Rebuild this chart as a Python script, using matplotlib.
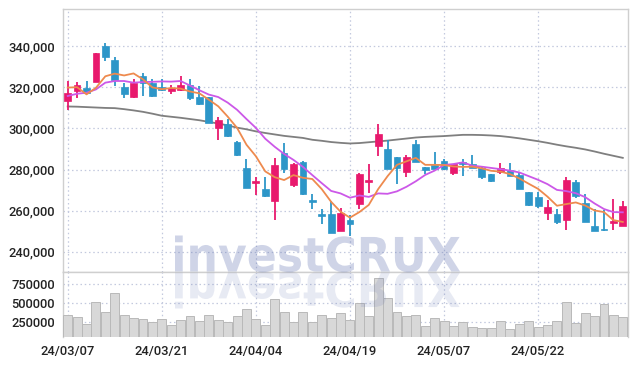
import matplotlib
matplotlib.use("Agg")
import matplotlib.pyplot as plt
from matplotlib.font_manager import FontProperties
from matplotlib.patches import PathPatch
from matplotlib.textpath import TextPath
from matplotlib.transforms import Affine2D
from matplotlib.ticker import FuncFormatter

# daily candles, prices in thousand won
opens = [313.2, 318.4, 319.7, 322.6, 340.1, 333.2, 320.3, 315.5, 325.7, 322.3,
         320.3, 318.4, 318.7, 321.0, 315.1, 315.3, 300.3, 302.4, 293.2, 281.0,
         273.3, 270.7, 264.5, 288.0, 272.3, 283.6, 265.4, 258.4, 258.4, 250.1,
         255.6, 263.3, 274.0, 291.4, 290.1, 286.2, 278.9, 292.2, 281.1, 282.4,
         284.4, 278.4, 283.8, 282.8, 280.8, 277.6, 278.9, 280.0, 277.2, 268.9,
         266.5, 258.9, 258.5, 255.6, 273.8, 263.8, 252.7, 251.2, 254.0, 252.3]
highs = [322.9, 322.8, 322.9, 336.6, 341.6, 335.0, 322.3, 323.9, 326.8, 323.9,
         324.2, 321.0, 325.5, 324.2, 320.6, 315.5, 305.5, 304.7, 293.8, 285.2,
         276.4, 276.4, 285.5, 292.7, 283.4, 284.0, 268.0, 261.0, 264.5, 261.3,
         257.7, 278.4, 282.8, 302.3, 294.6, 286.2, 287.0, 294.6, 281.1, 288.4,
         285.0, 282.8, 284.9, 287.3, 281.6, 278.0, 283.3, 283.3, 278.4, 269.0,
         269.0, 265.4, 260.8, 276.4, 275.1, 268.1, 261.0, 260.5, 265.7, 264.5]
lows = [308.8, 315.0, 316.6, 322.6, 332.7, 320.6, 314.8, 315.0, 315.8, 315.5,
        318.0, 317.0, 318.2, 313.8, 311.2, 302.5, 294.6, 295.8, 286.8, 270.9,
        267.5, 266.5, 255.6, 278.4, 271.7, 267.5, 261.0, 253.7, 249.1, 250.1,
        247.5, 260.8, 268.6, 286.8, 280.5, 273.2, 276.4, 283.8, 277.6, 280.5,
        280.0, 277.2, 277.1, 280.8, 275.6, 274.0, 277.6, 276.7, 270.5, 262.4,
        261.5, 255.6, 253.7, 250.7, 266.0, 254.5, 249.9, 249.9, 250.7, 252.3]
closes = [317.1, 321.0, 317.4, 336.6, 335.0, 323.4, 316.7, 322.3, 322.0, 315.8,
          318.5, 319.9, 321.0, 314.6, 311.7, 302.8, 303.9, 296.1, 287.0, 270.9,
          274.6, 267.0, 282.0, 280.1, 282.9, 268.0, 264.2, 257.2, 249.1, 258.9,
          253.5, 277.6, 275.1, 297.4, 280.5, 280.8, 286.2, 283.8, 280.0, 280.5,
          280.3, 282.8, 282.8, 280.8, 276.2, 274.3, 280.8, 276.7, 270.7, 262.9,
          262.1, 261.8, 254.3, 274.8, 267.0, 254.5, 249.9, 250.4, 255.1, 262.4]
# volume in thousand shares
volumes = [342, 316, 224, 521, 382, 640, 342, 303, 289, 250,
           289, 210, 276, 329, 263, 342, 276, 258, 333, 421,
           289, 214, 553, 382, 258, 382, 250, 342, 307, 368,
           280, 500, 333, 829, 566, 382, 333, 342, 201, 303,
           267, 201, 250, 188, 171, 171, 267, 158, 228, 263,
           184, 214, 263, 513, 241, 368, 333, 491, 342, 316]
ma5 = [319.9, 320.1, 316.6, 319.8, 325.4, 326.7, 325.8, 326.8, 323.9, 320.0,
       319.1, 319.7, 319.4, 318.0, 317.1, 314.0, 310.8, 305.8, 300.3, 292.1,
       286.5, 279.1, 276.3, 274.9, 277.3, 276.0, 275.4, 270.5, 264.3, 259.5,
       256.6, 259.3, 262.8, 270.5, 276.8, 282.3, 284.0, 285.7, 282.3, 282.3,
       282.2, 281.5, 281.3, 281.4, 280.6, 279.4, 279.0, 277.8, 275.7, 273.1,
       270.6, 266.8, 262.4, 263.2, 264.0, 262.5, 260.1, 259.3, 255.4, 254.5]
ma10 = [315.8, 316.9, 317.4, 319.0, 322.3, 323.1, 323.1, 322.3, 322.6, 322.7,
        322.9, 322.8, 323.1, 320.9, 318.6, 316.5, 315.3, 312.6, 309.1, 304.6,
        300.3, 295.0, 291.1, 287.6, 284.7, 281.3, 277.3, 273.4, 269.6, 268.4,
        266.3, 267.4, 266.7, 268.4, 268.2, 269.4, 271.6, 274.3, 277.4, 279.5,
        282.2, 282.7, 283.5, 281.9, 281.4, 280.8, 280.2, 279.5, 278.6, 276.8,
        275.0, 272.9, 270.1, 269.5, 268.5, 266.6, 263.5, 260.8, 259.3, 259.2]
ma60 = [310.7, 310.6, 310.4, 310.2, 310.0, 309.9, 309.4, 308.8, 308.1, 307.2,
        306.2, 305.7, 305.2, 304.6, 304.0, 303.2, 302.4, 301.5, 300.4, 299.6,
        298.6, 297.8, 297.1, 296.4, 295.9, 295.4, 294.5, 294.0, 293.4, 293.0,
        292.7, 292.9, 293.3, 293.7, 294.1, 294.6, 295.1, 295.6, 295.9, 296.1,
        296.3, 296.6, 296.9, 296.9, 296.8, 296.6, 296.3, 295.8, 295.2, 294.5,
        293.8, 293.0, 292.1, 291.3, 290.6, 289.8, 288.8, 287.7, 286.7, 285.7]
date_labels = ["24/03/07", "24/03/21", "24/04/04", "24/04/19", "24/05/07", "24/05/22"]
price_ticks = [240, 260, 280, 300, 320, 340]
volume_ticks = [250, 500, 750]

UP = "#e8196d"
DOWN = "#2d96c8"
GRID = "#c3c9de"
SPINE = "#cfcfcf"
W, H = 637, 366

plt.rcParams["font.family"] = ["Roboto", "DejaVu Sans"]

fig = plt.figure(figsize=(W / 100, H / 100), dpi=100)
left, right = 63 / W, 627.5 / W
ax = fig.add_axes([left, 1 - 272.3 / H, right - left, (272.3 - 9.3) / H])
axv = fig.add_axes([left, 1 - 336.7 / H, right - left, (336.7 - 272.3) / H], sharex=ax)

n = len(closes)
xs = list(range(n))
for i in xs:
    o, h, l, c = opens[i], highs[i], lows[i], closes[i]
    col = UP if c >= o else DOWN
    ax.vlines(i, l * 1000, h * 1000, color=col, lw=1.3, zorder=3)
    lo, hi = min(o, c), max(o, c)
    ax.bar(i, (hi - lo) * 1000 if hi > lo else 300, bottom=lo * 1000, width=0.72,
           color=col, edgecolor=col, lw=0.5, zorder=4)

ax.plot(xs, [v * 1000 for v in ma60], color="#7f7f7f", lw=1.3, zorder=2)
ax.plot(xs, [v * 1000 for v in ma10], color="#cc58e8", lw=1.3, zorder=5)
ax.plot(xs, [v * 1000 for v in ma5], color="#ee8a4e", lw=1.3, zorder=5)

axv.bar(xs, [v * 1000 for v in volumes], width=0.95, color="#d8d8d8",
        edgecolor="#b9b9b9", lw=0.7, zorder=3)

ax.set_xlim(-0.5, n - 0.5)
ax.set_ylim(230000, 358000)
axv.set_ylim(60000, 908000)

ax.set_yticks([t * 1000 for t in price_ticks])
ax.yaxis.set_major_formatter(FuncFormatter(lambda v, p: f"{int(v):,}"))
axv.set_yticks([t * 1000 for t in volume_ticks])
axv.yaxis.set_major_formatter(FuncFormatter(lambda v, p: f"{int(v)}"))
axv.set_xticks(list(range(0, n, 10)))
axv.set_xticklabels(date_labels)
ax.tick_params(axis="x", labelbottom=False)

for a in (ax, axv):
    a.grid(True, color=GRID, ls=(0, (1.2, 2.2)), lw=0.9)
    a.set_axisbelow(True)
    a.tick_params(length=0, pad=6, labelsize=9.3, colors="#222222")
    for s in a.spines.values():
        s.set_color(SPINE)
        s.set_linewidth(1.0)
    for lab in a.get_yticklabels() + a.get_xticklabels():
        lab.set_fontweight("medium")
axv.spines["bottom"].set_visible(False)

# watermark with mirrored reflection, in pixel units
tp = TextPath((0, 0), "investCRUX", size=50,
              prop=FontProperties(family="DejaVu Sans", weight="bold"))
ext = tp.get_extents()
sx = (460 - 175) / ext.width
sy = (271 - 235) / ext.y1
to_fig = Affine2D().scale(1 / W, 1 / H) + fig.transFigure
base = H - 271.5
main = Affine2D().translate(-ext.x0, 0).scale(sx, sy).translate(175, base)
mirror = Affine2D().translate(-ext.x0, 0).scale(sx, -sy).translate(175, base - 1)
fig.add_artist(PathPatch(tp, transform=main + to_fig, color="#6273b2",
                         alpha=0.3, lw=0, zorder=1.5))
fig.add_artist(PathPatch(tp, transform=mirror + to_fig, color="#6273b2",
                         alpha=0.15, lw=0, zorder=1.5))

fig.savefig("out.png", dpi=100)
